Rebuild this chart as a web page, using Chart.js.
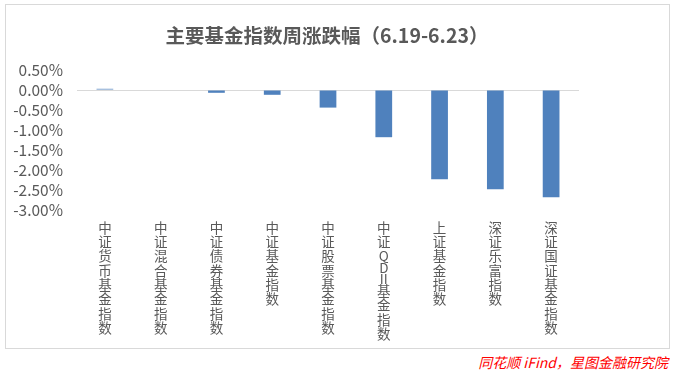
<!DOCTYPE html>
<html>
<head>
<meta charset="utf-8">
<script src="https://cdn.jsdelivr.net/npm/chart.js@4"></script>
<style>
  body { margin: 0; background: #fff; width: 674px; height: 373px; position: relative; overflow: hidden; }
  #box { position: absolute; left: 5px; top: 4px; width: 663px; height: 343px; border: 1px solid #d9d9d9; }
  #title { position: absolute; left: 0; width: 654px; top: 25px; text-align: center; color: #595959;
           font: bold 19.5px/20px "Noto Sans CJK SC", sans-serif; }
  #source { position: absolute; right: 6px; top: 353px; color: #ff0000; font: italic 14px/18px "Noto Sans CJK SC", sans-serif; }
</style>
</head>
<body>
<div id="box"><canvas id="myChart"></canvas></div>
<div id="title">主要基金指数周涨跌幅（6.19-6.23）</div>
<div id="source">同花顺 iFind，星图金融研究院</div>
<script>
const categories = ['中证货币基金指数', '中证混合基金指数', '中证债券基金指数', '中证基金指数', '中证股票基金指数',
    '中证QDII基金指数', '上证基金指数', '深证乐富指数', '深证国证基金指数'];
const weeklyChange = [0.03, 0.00, -0.07, -0.12, -0.44, -1.18, -2.23, -2.48, -2.68];
const yTicks = [0.5, 0, -0.5, -1, -1.5, -2, -2.5, -3];

const ctx = document.getElementById('myChart');
const font = '"Noto Sans CJK SC", sans-serif';

// category names are written top to bottom, one character per line,
// latin letters take a shorter step than the chinese ones
const verticalLabels = {
    id: 'verticalLabels',
    afterDraw(chart) {
        const xs = chart.scales.x;
        const c = chart.ctx;
        c.save();
        c.fillStyle = '#595959';
        c.font = '13.5px ' + font;
        c.textAlign = 'center';
        c.textBaseline = 'top';
        chart.data.labels.forEach((label, i) => {
            const x = xs.getPixelForTick(i);
            let y = xs.top + 11;
            const parts = label.replace('QDII', 'Q|D|Ⅱ|').split('|').flatMap(p => p.length > 1 && /[\u4e00-\u9fff]/.test(p) ? p.split('') : [p]).filter(p => p);
            parts.forEach(ch => {
                c.fillText(ch === 'Ⅱ' ? 'II' : ch, x, y);
                y += /[A-ZⅡ]/.test(ch) ? 11.5 : 14.3;
            });
        });
        c.restore();
    }
};

new Chart(ctx, {
    type: 'bar',
    data: {
        labels: categories,
        datasets: [{
            label: '周涨跌幅',
            data: weeklyChange,
            backgroundColor: '#4f81bd',
            barPercentage: 0.3,
            categoryPercentage: 1
        }]
    },
    options: {
        responsive: true,
        maintainAspectRatio: false,
        animation: false,
        layout: { padding: { left: 0, right: 90, top: 65, bottom: 0 } },
        plugins: {
            legend: { display: false },
            tooltip: { enabled: false }
        },
        scales: {
            x: {
                grid: { display: false },
                border: { display: false },
                ticks: { display: false },
                afterFit: scale => { scale.height = 138; }
            },
            y: {
                min: -3,
                max: 0.5,
                afterBuildTicks: axis => { axis.ticks = yTicks.map(v => ({ value: v })); },
                afterFit: scale => { scale.width = 71; },
                border: { display: false },
                grid: {
                    drawTicks: false,
                    color: c => c.tick && c.tick.value === 0 ? '#d9d9d9' : 'rgba(0,0,0,0)',
                    lineWidth: 1
                },
                ticks: {
                    color: '#595959',
                    font: { family: font, size: 15.5 },
                    padding: 14,
                    autoSkip: false,
                    callback: v => v.toFixed(2) + '%'
                }
            }
        }
    },
    plugins: [verticalLabels]
});
</script>
</body>
</html>
